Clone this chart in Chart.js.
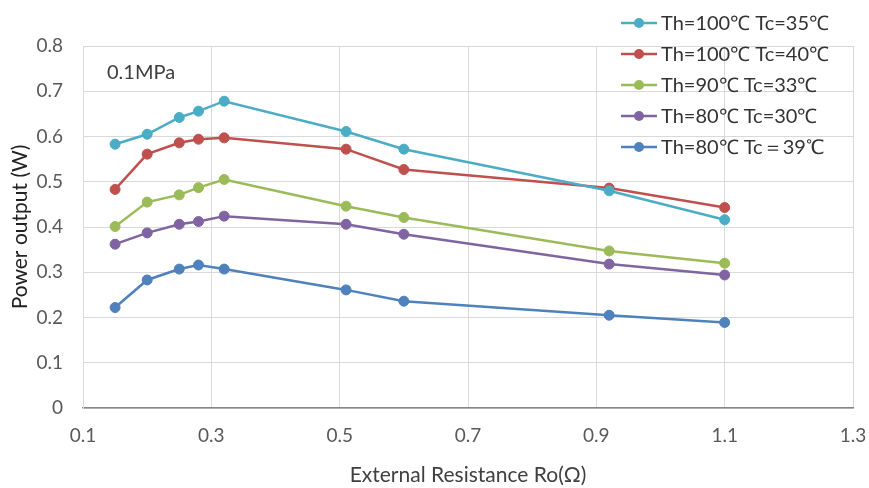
<!DOCTYPE html>
<html>
<head>
<meta charset="utf-8">
<script src="https://cdn.jsdelivr.net/npm/chart.js@4"></script>
<style>
  body { margin: 0; background: #fff; }
  canvas { display: block; }
</style>
</head>
<body>
<canvas id="power-chart" width="869" height="488"></canvas>
<script>
// external resistance (ohm)
const resistance = [0.15, 0.2, 0.25, 0.28, 0.32, 0.51, 0.6, 0.92, 1.1];

const seriesLabels = [
    'Th=100\u2103 Tc=35\u2103',
    'Th=100\u2103 Tc=40\u2103',
    'Th=90\u2103 Tc=33\u2103',
    'Th=80\u2103 Tc=30\u2103',
    'Th=80\u2103 Tc\uFF1D39\u2103'
];

const th100tc35 = [0.583, 0.605, 0.642, 0.656, 0.678, 0.611, 0.572, 0.480, 0.416];
const th100tc40 = [0.483, 0.561, 0.586, 0.594, 0.597, 0.572, 0.527, 0.486, 0.443];
const th90tc33  = [0.401, 0.455, 0.471, 0.487, 0.505, 0.446, 0.421, 0.347, 0.320];
const th80tc30  = [0.362, 0.387, 0.406, 0.412, 0.424, 0.406, 0.384, 0.318, 0.294];
const th80tc39  = [0.222, 0.283, 0.307, 0.316, 0.307, 0.261, 0.236, 0.205, 0.189];

const xTicks = [0.1, 0.3, 0.5, 0.7, 0.9, 1.1, 1.3];
const yTicks = [0, 0.1, 0.2, 0.3, 0.4, 0.5, 0.6, 0.7, 0.8];

const colors = ['#4bacc6', '#c0504d', '#9bbb59', '#8064a2', '#4f81bd'];
const FONT = 'Lato, "Liberation Sans", sans-serif';

function toPoints(values){
    return values.map((v, i) => ({x: resistance[i], y: v}));
}

const allSeries = [th100tc35, th100tc40, th90tc33, th80tc30, th80tc39];

const datasets = allSeries.map((values, i) => ({
    label: seriesLabels[i],
    data: toPoints(values),
    borderColor: colors[i],
    backgroundColor: colors[i],
    pointBackgroundColor: colors[i],
    pointBorderColor: colors[i],
    pointRadius: 5,
    pointBorderWidth: 1,
    borderWidth: 2.5,
    tension: 0
}));

// legend drawn by hand, vertical list at top right
const sideLegend = {
    id: 'sideLegend',
    afterDraw(chart){
        const ctx = chart.ctx;
        ctx.save();
        ctx.font = '20px ' + FONT;
        ctx.textBaseline = 'middle';
        ctx.textAlign = 'left';
        chart.data.datasets.forEach((ds, i) => {
            const y = 23 + i * 31;
            ctx.strokeStyle = ds.borderColor;
            ctx.lineWidth = 2.5;
            ctx.beginPath();
            ctx.moveTo(621, y);
            ctx.lineTo(657, y);
            ctx.stroke();
            ctx.fillStyle = ds.borderColor;
            ctx.beginPath();
            ctx.arc(639, y, 5, 0, Math.PI * 2);
            ctx.fill();
            ctx.fillStyle = '#333';
            ctx.fillText(ds.label, 661, y + 1);
        });
        ctx.restore();
    }
};

const pressureNote = {
    id: 'pressureNote',
    afterDraw(chart){
        const ctx = chart.ctx;
        const area = chart.chartArea;
        ctx.save();
        ctx.font = '20px ' + FONT;
        ctx.fillStyle = '#404040';
        ctx.textBaseline = 'middle';
        ctx.fillText('0.1MPa', area.left + 24, area.top + 27);
        ctx.restore();
    }
};

new Chart(document.getElementById('power-chart'), {
    type: 'line',
    data: { datasets: datasets },
    options: {
        responsive: false,
        animation: false,
        devicePixelRatio: 1,
        layout: { padding: { top: 46, right: 16, left: 0, bottom: 0 } },
        plugins: {
            legend: { display: false },
            tooltip: { enabled: false }
        },
        scales: {
            x: {
                type: 'linear',
                min: xTicks[0],
                max: xTicks[xTicks.length - 1],
                afterBuildTicks: scale => { scale.ticks = xTicks.map(v => ({value: v})); },
                afterFit: scale => {
                    scale.height = 80;
                    scale.paddingLeft = 0;
                    scale.paddingRight = 0;
                },
                grid: { color: '#d9d9d9', lineWidth: 1, drawTicks: false },
                border: { color: '#868686', width: 1.5 },
                ticks: {
                    padding: 16,
                    color: '#595959',
                    font: { family: FONT, size: 19 },
                    callback: v => v.toFixed(1)
                },
                title: {
                    display: true,
                    text: 'External Resistance Ro(\u03A9)',
                    color: '#404040',
                    font: { family: FONT, size: 21 },
                    padding: { top: 6, bottom: 0 }
                }
            },
            y: {
                min: yTicks[0],
                max: yTicks[yTicks.length - 1],
                afterBuildTicks: scale => { scale.ticks = yTicks.map(v => ({value: v})); },
                afterFit: scale => { scale.width = 83; },
                grid: { color: '#d9d9d9', lineWidth: 1, drawTicks: false },
                border: { color: '#d9d9d9', width: 1 },
                ticks: {
                    padding: 20,
                    color: '#595959',
                    font: { family: FONT, size: 19 },
                    callback: v => v === 0 ? '0' : v.toFixed(1)
                },
                title: {
                    display: true,
                    text: 'Power output (W)',
                    color: '#222',
                    font: { family: FONT, size: 21 },
                    padding: { top: 8, bottom: 0 }
                }
            }
        }
    },
    plugins: [sideLegend, pressureNote]
});
</script>
</body>
</html>
